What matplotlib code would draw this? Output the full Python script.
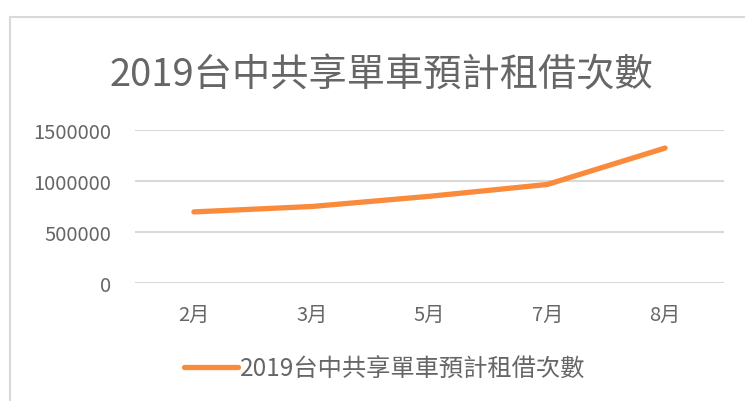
import matplotlib
matplotlib.use('Agg')
import matplotlib.pyplot as plt
from matplotlib.lines import Line2D

plt.rcParams['font.family'] = ['Noto Sans CJK TC', 'DejaVu Sans']

TITLE = '2019台中共享單車預計租借次數'
months = ['2月', '3月', '5月', '7月', '8月']
rentals = [697000, 750000, 850000, 966000, 1323000]
y_ticks = [0, 500000, 1000000, 1500000]

TEXT = '#666666'
GRID = '#D9D9D9'
ORANGE = '#FA8B3C'

W, H = 745, 402
fig = plt.figure(figsize=(W / 100, H / 100), dpi=100)

# chart-area border (top and left edges show in the crop)
fig.add_artist(Line2D([10 / W, 1], [1 - 18 / H] * 2, color=GRID, lw=1.5))
fig.add_artist(Line2D([10 / W] * 2, [0, 1 - 18 / H], color=GRID, lw=1.5))

ax = fig.add_axes([135 / W, 1 - 284 / H, (724 - 135) / W, (284 - 131) / H])
x = list(range(len(months)))
ax.plot(x, rentals, color=ORANGE, lw=3.8, solid_capstyle='round',
        solid_joinstyle='round', label=TITLE, zorder=3)

ax.set_xlim(-0.5, len(months) - 0.5)
ax.set_ylim(0, 1500000)
ax.set_yticks(y_ticks)
ax.set_yticklabels([str(v) for v in y_ticks])
ax.set_xticks(x)
ax.set_xticklabels(months)
ax.grid(axis='y', color=GRID, lw=1.5, zorder=0)
ax.grid(axis='x', visible=False)
for s in ax.spines.values():
    s.set_visible(False)
ax.tick_params(axis='both', length=0, labelsize=14.5, labelcolor=TEXT)
ax.tick_params(axis='y', pad=17)
ax.tick_params(axis='x', pad=15)

fig.text(381 / W, 1 - 76 / H, TITLE, ha='center', va='center',
         fontsize=27.5, color=TEXT)

fig.legend(handles=[Line2D([], [], color=ORANGE, lw=3.8, solid_capstyle='round')],
           labels=[TITLE], loc='center', bbox_to_anchor=(385 / W, 1 - 370 / H),
           frameon=False, fontsize=17.5, labelcolor=TEXT,
           handlelength=2.2, handletextpad=0.1)

fig.savefig('out.png', dpi=100)
